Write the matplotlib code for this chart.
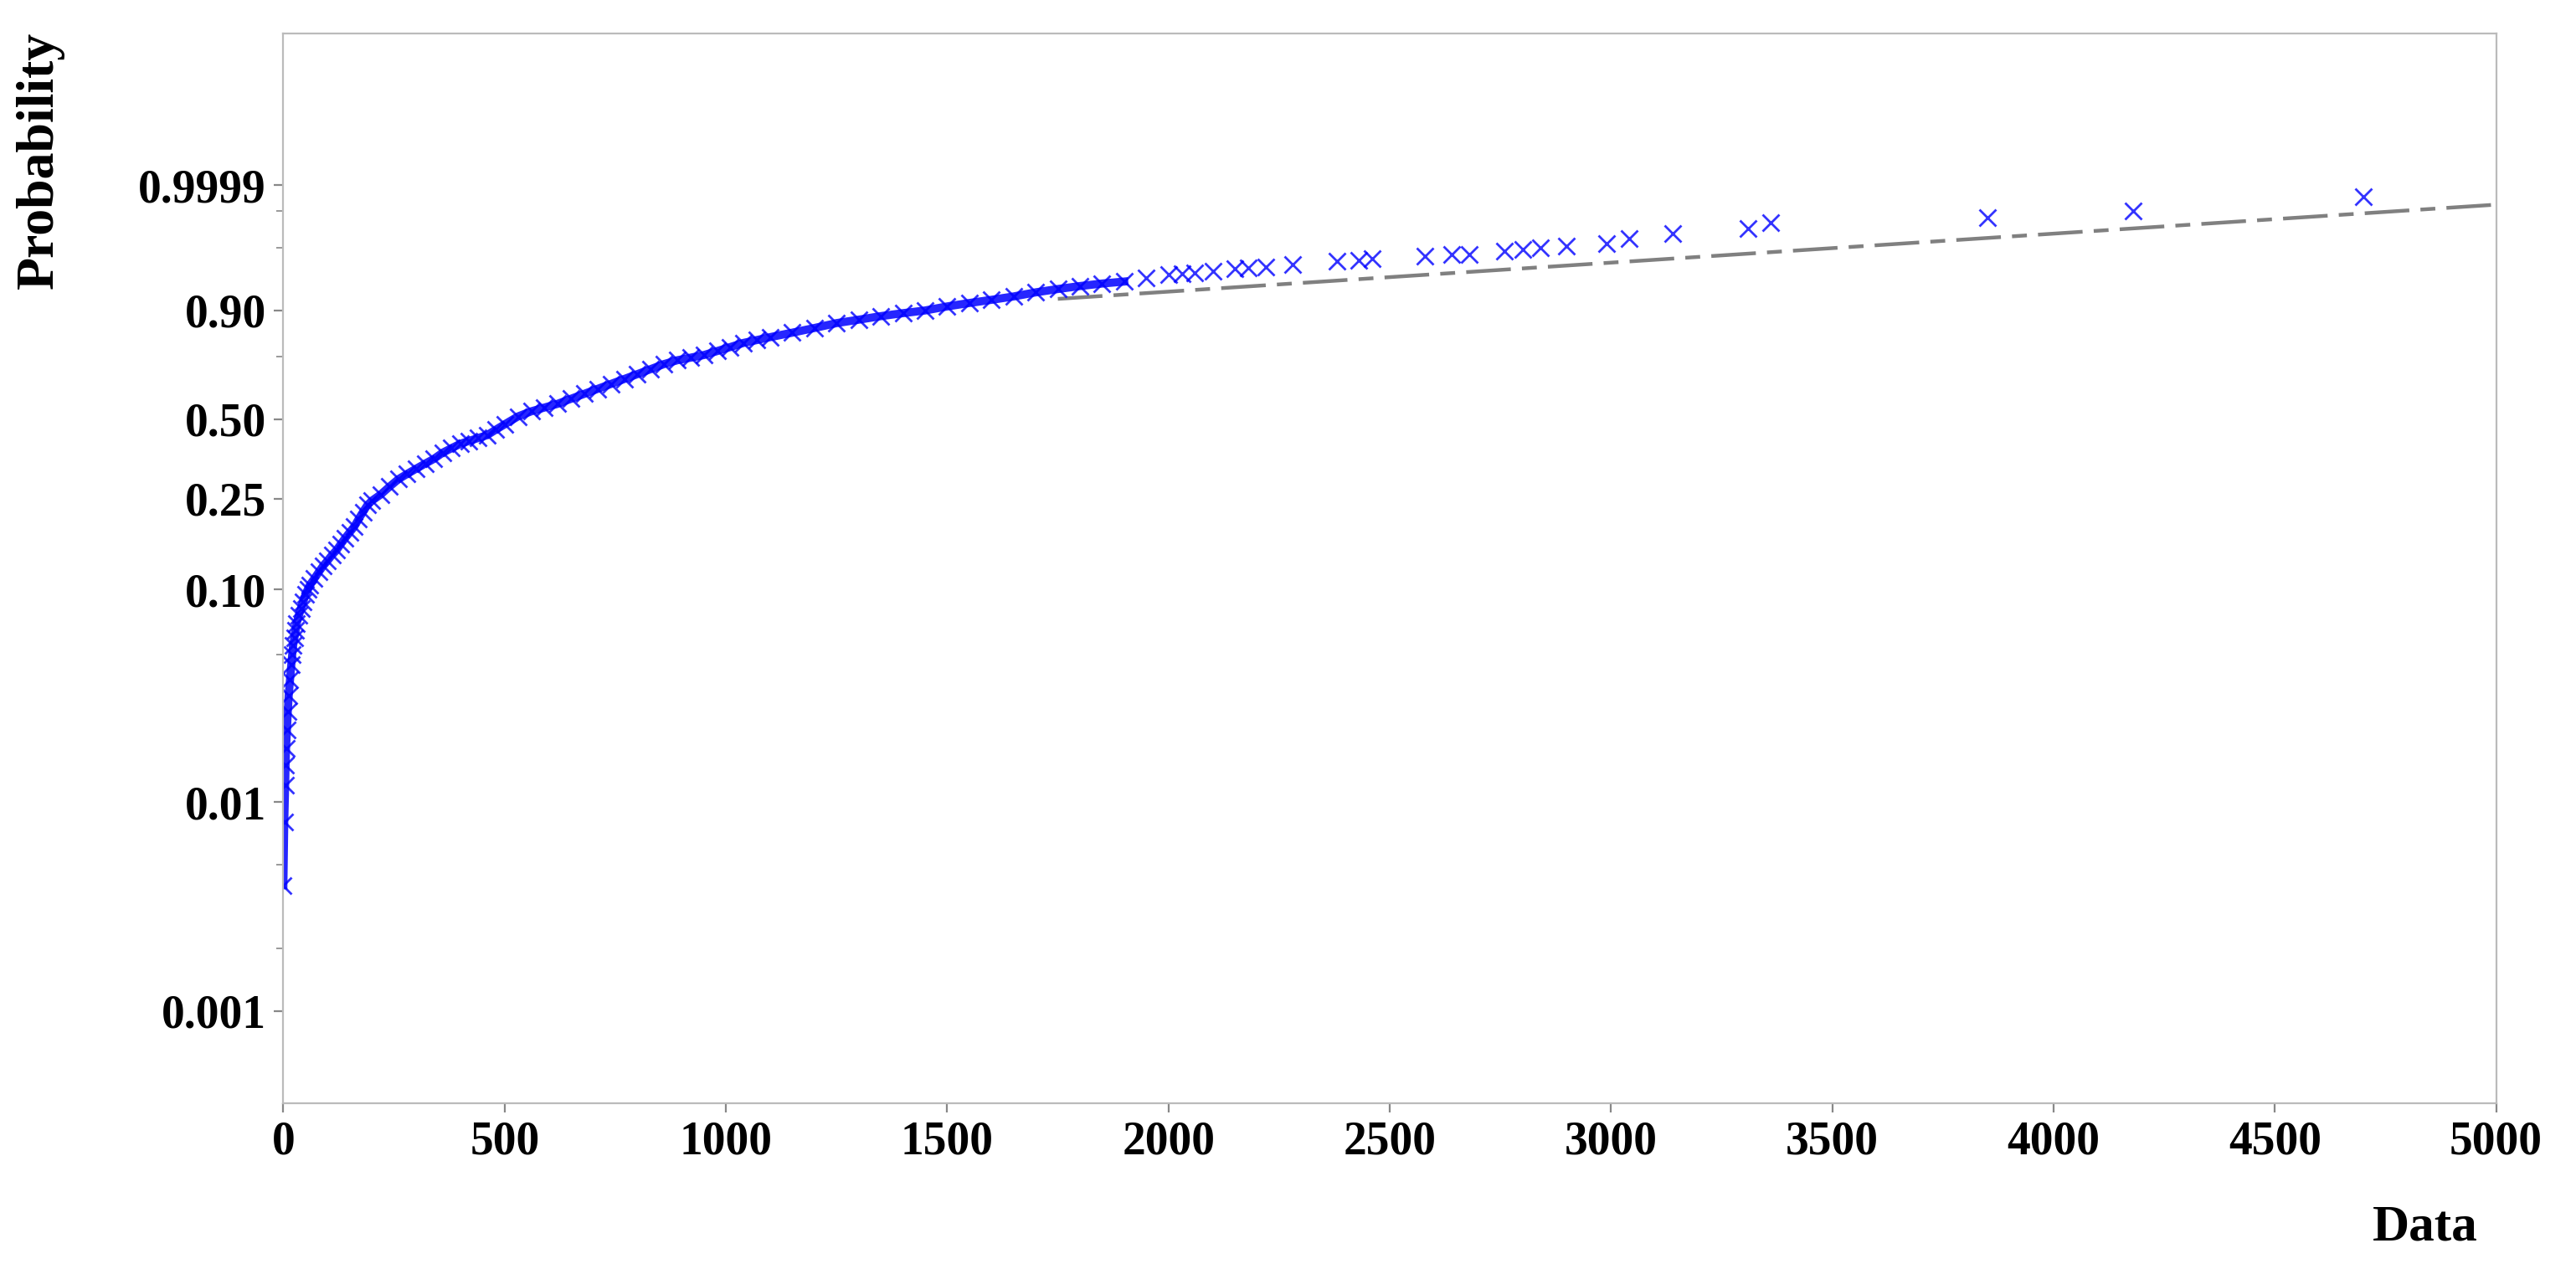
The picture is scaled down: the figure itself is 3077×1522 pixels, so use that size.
import numpy as np
import matplotlib.pyplot as plt

# observed points (x, cumulative probability)
data_x = [0, 2, 4, 5, 6, 8, 10, 12, 15, 18, 20, 22, 25, 28, 30, 35, 40, 45, 50, 55, 60, 70, 80, 90,
          100, 110, 120, 130, 140, 150, 160, 170, 180, 190, 200, 220, 240, 260, 280, 300, 320, 340,
          360, 380, 400, 420, 440, 460, 480, 500, 530, 560, 590, 620, 650, 680, 710, 740, 770, 800,
          830, 860, 890, 920, 950, 980, 1010, 1040, 1070, 1100, 1150, 1200, 1250, 1300, 1350, 1400,
          1450, 1500, 1550, 1600, 1650, 1700, 1750, 1800, 1850, 1900,
          1950, 2000, 2030, 2060, 2100, 2150, 2180, 2220, 2280, 2380, 2430, 2460, 2580, 2640, 2680,
          2760, 2800, 2840, 2900, 2990, 3040, 3140, 3310, 3360, 3850, 4180, 4700]
data_p = [0.004, 0.008, 0.012, 0.015, 0.018, 0.022, 0.027, 0.032, 0.038, 0.045, 0.05, 0.055, 0.06,
          0.065, 0.07, 0.076, 0.082, 0.088, 0.095, 0.10, 0.105, 0.112, 0.12, 0.128, 0.135, 0.143,
          0.15, 0.16, 0.17, 0.18, 0.19, 0.205, 0.22, 0.235, 0.245, 0.26, 0.28, 0.30, 0.315, 0.33,
          0.345, 0.36, 0.38, 0.395, 0.41, 0.42, 0.43, 0.44, 0.46, 0.48, 0.51, 0.53, 0.545, 0.56,
          0.58, 0.60, 0.62, 0.64, 0.66, 0.68, 0.70, 0.72, 0.735, 0.745, 0.755, 0.77, 0.785, 0.80,
          0.81, 0.82, 0.835, 0.85, 0.865, 0.875, 0.885, 0.893, 0.90, 0.91, 0.918, 0.925, 0.932,
          0.94, 0.946, 0.951, 0.955, 0.958,
          0.963, 0.967, 0.968, 0.969, 0.971, 0.974, 0.975, 0.976, 0.978, 0.981, 0.982, 0.983,
          0.985, 0.986, 0.986, 0.988, 0.989, 0.990, 0.991, 0.992, 0.9938, 0.9954, 0.9966, 0.9977,
          0.9984, 0.9990, 0.9997]
n_dense = 86  # points below x=1900 overlap into a solid band

# fitted reference line
fit_x = [1750, 5000]
fit_p = [0.927, 0.9994]

tick_p = [0.001, 0.01, 0.10, 0.25, 0.50, 0.90, 0.9999]
tick_labels = ['0.001', '0.01', '0.10', '0.25', '0.50', '0.90', '0.9999']
minor_p = [0.002, 0.005, 0.05, 0.75, 0.99, 0.999]


def weib(p):
    p = np.asarray(p, dtype=float)
    return np.log(-np.log(1 - p))


plt.rcParams['font.family'] = ['Liberation Serif', 'DejaVu Serif']
plt.rcParams['font.weight'] = 'bold'

fig = plt.figure(figsize=(15.385, 7.61), dpi=200)
ax = fig.add_axes([0.11, 0.134, 0.859, 0.84])

ax.plot(fit_x, weib(fit_p), color='grey', linestyle=(0, (12, 3, 4, 3)), linewidth=1.6, zorder=1)
ax.plot(data_x[:n_dense], weib(data_p[:n_dense]), color='blue', linewidth=3.5,
        alpha=0.85, zorder=2)
ax.plot(data_x, weib(data_p), linestyle='none', marker='x', color='blue',
        markersize=7, markeredgewidth=1.0, alpha=0.8, zorder=2)

ax.set_xlim(0, 5000)
ax.set_ylim(-7.93, 3.9)
ax.set_xticks(np.arange(0, 5001, 500))
ax.set_yticks(weib(tick_p))
ax.set_yticklabels(tick_labels)
ax.set_yticks(weib(minor_p), minor=True)
ax.tick_params(axis='both', labelsize=20, length=4, color='#888888')
ax.tick_params(axis='y', which='minor', length=3, color='#888888')
for lab in ax.get_xticklabels() + ax.get_yticklabels():
    lab.set_fontweight('bold')

for s in ax.spines.values():
    s.set_color('#bbbbbb')

fig.text(0.006, 0.975, 'Probability', rotation=90, ha='left', va='top',
         fontsize=23, fontweight='bold')
fig.text(0.962, 0.018, 'Data', ha='right', va='bottom', fontsize=22, fontweight='bold')

fig.savefig('out.png', dpi=200)
